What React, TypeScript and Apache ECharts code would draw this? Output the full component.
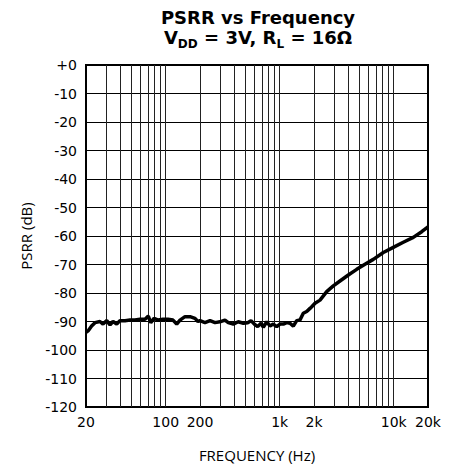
import React, { useEffect, useRef } from "react";
import * as echarts from "echarts";

const freqHz = [
  20, 21, 22.4, 24, 26.5, 28.2, 30.4, 32.5, 34.5, 37.2, 39.7, 44, 48.6, 53.8, 59.5, 65.9, 70.4, 73.9, 79, 86.1,
  94.7, 104.8, 115.9, 124.9, 133.5, 147.7, 163.4, 180.8, 191.9, 200, 221, 245, 271, 299, 331, 354, 392, 433,
  480, 524, 560, 599, 641, 686, 718, 770, 822, 879, 942, 1007, 1077, 1152, 1231, 1317, 1410, 1507, 1611,
  1726, 1845, 1910, 2042, 2259, 2585, 2953, 3380, 4000, 4740, 5600, 6625, 8110, 9925, 12140, 14860, 17610, 20000,
];
const psrrDb = [
  -93.8, -93.2, -91.6, -90.4, -90.0, -90.9, -89.7, -91.2, -90.0, -90.9, -89.7, -89.7, -89.5, -89.5, -89.2,
  -89.2, -88.1, -90.4, -88.9, -89.5, -89.2, -89.2, -89.5, -90.9, -89.5, -88.3, -88.3, -88.9, -90.0, -89.7,
  -90.4, -89.7, -90.4, -90.1, -89.5, -90.4, -90.9, -90.1, -90.6, -90.4, -89.7, -90.9, -91.8, -90.6, -92.0,
  -90.1, -91.6, -90.9, -91.8, -90.9, -90.9, -90.4, -90.6, -91.6, -89.7, -89.5, -87.1, -86.5, -85.4, -84.8,
  -83.6, -82.5, -79.5, -77.5, -75.8, -73.7, -71.7, -69.9, -68.2, -65.8, -64.0, -62.2, -60.5, -58.5, -56.8,
];
const xLabelValues = [20, 100, 200, 1000, 2000, 10000, 20000];
const xGridValues = [
  30, 40, 50, 60, 70, 80, 90, 100, 200, 300, 400, 500, 600, 700, 800, 900, 1000,
  2000, 3000, 4000, 5000, 6000, 7000, 8000, 9000, 10000,
];
const yMin = -120;
const yMax = 0;
const yStep = 10;

const FONT = "'DejaVu Sans', 'Liberation Sans', Arial, sans-serif";
const NAME_FONT = "'Open Sans', 'Noto Sans', sans-serif";

function fmtFreq(v: number): string {
  if (v >= 1000) return `${Math.round(v / 1000)}k`;
  return String(Math.round(v));
}

export default function App() {
  const ref = useRef<HTMLDivElement>(null);
  useEffect(() => {
    document.body.style.margin = "0";
    if (!ref.current) return;
    const chart = echarts.init(ref.current, null, { renderer: "svg" });
    const data = freqHz.map((f, i) => [f, psrrDb[i]]);
    chart.setOption({
      animation: false,
      backgroundColor: "#fff",
      title: {
        left: 258,
        top: 7,
        padding: 0,
        textAlign: "center",
        text: "{t|PSRR vs Frequency}\n{n|V}{s|DD}{n| = 3V, R}{s|L}{n| = 16Ω}",
        textStyle: {
          fontFamily: FONT,
          fontWeight: "bold",
          color: "#000",
          rich: {
            t: { fontFamily: FONT, fontWeight: "bold", fontSize: 18, lineHeight: 21, color: "#000" },
            n: { fontFamily: FONT, fontWeight: "bold", fontSize: 18, lineHeight: 21, color: "#000", verticalAlign: "top" },
            s: { fontFamily: FONT, fontWeight: "bold", fontSize: 12, lineHeight: 12, color: "#000", verticalAlign: "top", padding: [10, 0, 0, 0] },
          },
        },
      },
      grid: {
        left: 86,
        right: 23,
        top: 65,
        bottom: 60,
        show: true,
        borderColor: "#000",
        borderWidth: 2,
        backgroundColor: "transparent",
      },
      xAxis: {
        type: "log",
        logBase: 10,
        min: 20,
        max: 20000,
        name: "FREQUENCY (Hz)",
        nameLocation: "middle",
        nameGap: 40,
        nameTextStyle: { fontFamily: NAME_FONT, fontSize: 15, color: "#000" },
        axisLine: { show: true, lineStyle: { color: "#000", width: 2 } },
        axisTick: { show: false },
        splitLine: { show: false },
        minorSplitLine: { show: false },
        axisLabel: {
          customValues: xLabelValues,
          formatter: (v: number) => fmtFreq(v),
          fontFamily: FONT,
          fontSize: 14,
          color: "#000",
          margin: 8,
          hideOverlap: false,
        },
      },
      yAxis: {
        type: "value",
        min: yMin,
        max: yMax,
        interval: yStep,
        name: "PSRR (dB)",
        nameLocation: "middle",
        nameGap: 53,
        nameTextStyle: { fontFamily: NAME_FONT, fontSize: 15, color: "#000" },
        axisLine: { show: true, lineStyle: { color: "#000", width: 2 } },
        axisTick: { show: false },
        splitLine: { show: true, lineStyle: { color: "#000", width: 1 } },
        axisLabel: {
          formatter: (v: number) => (v === 0 ? "+0" : String(v)),
          fontFamily: FONT,
          fontSize: 14,
          color: "#000",
          margin: 9,
        },
      },
      series: [
        {
          type: "line",
          data: [],
          silent: true,
          z: 1,
          markLine: {
            silent: true,
            symbol: ["none", "none"],
            label: { show: false },
            lineStyle: { color: "#222", width: 1, type: "solid" },
            data: xGridValues.map((v) => ({ xAxis: v })),
          },
        },
        {
          type: "line",
          data,
          z: 5,
          showSymbol: false,
          symbol: "none",
          lineStyle: { color: "#000", width: 3.5 },
          itemStyle: { color: "#000" },
        },
      ],
    });
    return () => chart.dispose();
  }, []);
  return <div ref={ref} style={{ width: 451, height: 467 }} />;
}
